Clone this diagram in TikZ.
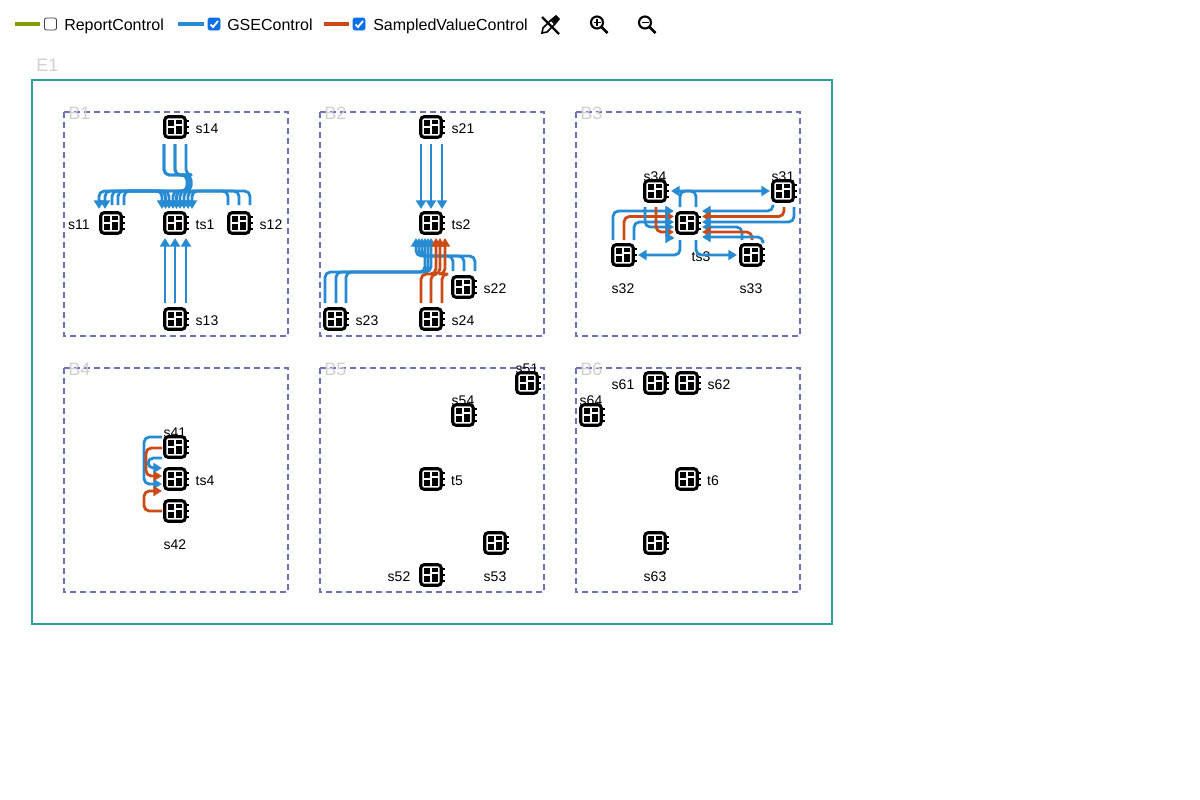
\documentclass[tikz,border=0pt]{standalone}
\usepackage{fontspec}
\setmainfont{Liberation Sans}
\usetikzlibrary{arrows.meta}
\definecolor{gsec}{HTML}{268BD2}
\definecolor{svc}{HTML}{CB4B16}
\definecolor{rpc}{HTML}{859900}
\definecolor{teal}{HTML}{2AA198}
\definecolor{bay}{HTML}{6C71C4}
\definecolor{faint}{HTML}{D0D0D0}
\definecolor{chk}{HTML}{0B6FE8}
\tikzset{
 x=0.75pt,y=-0.75pt,
 txt/.style={font=\fontsize{10.5pt}{12pt}\selectfont,text=black,inner sep=0pt,anchor=base},
 legtxt/.style={font=\fontsize{12pt}{14pt}\selectfont,text=black,inner sep=0pt,anchor=base west},
 ttl/.style={font=\fontsize{13.5pt}{15pt}\selectfont,text=faint,inner sep=0pt,anchor=base west},
 frame/.style={draw=teal,line width=1.5pt},
 baybox/.style={draw=bay,line width=1.5pt,dash pattern=on 4.5pt off 3pt},
 iedbox/.style={draw=black,line width=2.3pt,rounded corners=2.5pt,minimum width=15.4pt,minimum height=15.4pt,inner sep=0pt},
 gse/.style={draw=gsec,line width=2.1pt,rounded corners=4pt,line join=round},
 sv/.style={draw=svc,line width=2.1pt,rounded corners=4pt,line join=round},
 gsea/.style={gse,-{Triangle[length=6.5pt,width=7.5pt]}},
 sva/.style={sv,-{Triangle[length=6.5pt,width=7.5pt]}},
 leg/.style={line width=2.4pt},
 box/.style={draw=#1,fill=#1,rounded corners=1.5pt,line width=0.5pt},
}
\newcommand{\ied}[3]{%
 \node[iedbox] (#1) at (#2,#3) {};
 \begin{scope}[shift={(#2,#3)}]
 \fill[black] (-7,-6.8) rectangle (-0.8,-0.8);
 \fill[black] (-7,1.2) rectangle (-0.8,6.8);
 \fill[black] (1.2,-6.8) rectangle (6.8,-3);
 \fill[black] (1.2,-1.5) rectangle (6.8,6.8);
 \draw[black,line width=1.3pt] (11.5,-6) -- (14,-6) (11.5,0) -- (14,0) (11.5,6) -- (14,6);
 \end{scope}}
\newcommand{\lbl}[4]{\node[txt] (#1) at (#2,#3+5) {#4};}
\begin{document}
\begin{tikzpicture}
\useasboundingbox (0,0) rectangle (1200,800);
\fill[white] (0,0) rectangle (1200,800);
% legend
\coordinate (r1) at (15,24); \coordinate (r2) at (40,24);
\draw[leg,rpc] (r1) -- (r2);
\draw[black!75,line width=0.6pt,rounded corners=1.5pt] (44.5,18) rectangle (56.5,30);
\node[legtxt] (lr) at (64,30) {ReportControl};
\coordinate (g1) at (178,24); \coordinate (g2) at (204,24);
\draw[leg,gsec] (g1) -- (g2);
\filldraw[box=chk] (208,18) rectangle (220,30);
\draw[white,line width=1.4pt] (210.5,24.5) -- (213,27) -- (218,21);
\node[legtxt] (lg) at (227,30) {GSEControl};
\coordinate (s1) at (324,24); \coordinate (s2) at (349,24);
\draw[leg,svc] (s1) -- (s2);
\filldraw[box=chk] (353,18) rectangle (365,30);
\draw[white,line width=1.4pt] (355.5,24.5) -- (358,27) -- (363,21);
\node[legtxt] (ls) at (373,30) {SampledValueControl};
% tool icons
\draw[black,line width=1.6pt] (542,17) -- (559,34);
\draw[black,line width=1.2pt] (542,33) -- (543,28) -- (551,20) -- (555,24) -- (547,32) -- cycle;
\fill[black] (551,19) -- (556,15) -- (560,19) -- (556,24) -- cycle;
\foreach \cx/\pl in {597/1,645/0}{
 \draw[black,line width=1.6pt] (\cx,22.5) circle[radius=6];
 \draw[black,line width=1.9pt] (\cx+4.5,27) -- (\cx+10.5,33);
 \draw[black,line width=1.2pt] (\cx-3.5,22.5) -- (\cx+3.5,22.5);
 \ifnum\pl=1 \draw[black,line width=1.2pt] (\cx,19) -- (\cx,26);\fi
}
% frames
\draw[frame] (32,80) rectangle (832,624);
\node[ttl] (E1) at (36,71) {E1};
\foreach \bx/\by/\bn in {64/112/B1,320/112/B2,576/112/B3,64/368/B4,320/368/B5,576/368/B6}{
 \draw[baybox] (\bx,\by) rectangle (\bx+224,\by+224);
 \node[ttl] (\bn) at (\bx+4,\by+7) {\bn};
}
% labels
\lbl{ls14}{207}{128}{s14}\lbl{lts1}{205}{224}{ts1}\lbl{ls11}{79}{224}{s11}\lbl{ls12}{271}{224}{s12}\lbl{ls13}{207}{320}{s13}
\lbl{ls21}{463}{128}{s21}\lbl{lts2}{461}{224}{ts2}\lbl{ls22}{495}{288}{s22}\lbl{ls23}{367}{320}{s23}\lbl{ls24}{463}{320}{s24}
\lbl{ls34}{655}{176}{s34}\lbl{ls31}{783}{176}{s31}\lbl{lts3}{701}{256}{ts3}\lbl{ls32}{623}{288}{s32}\lbl{ls33}{751}{288}{s33}
\lbl{ls41}{175}{432}{s41}\lbl{lts4}{205}{480}{ts4}\lbl{ls42}{175}{544}{s42}
\lbl{ls51}{527}{368}{s51}\lbl{ls54}{463}{400}{s54}\lbl{lt5}{457}{480}{t5}\lbl{ls52}{399}{576}{s52}\lbl{ls53}{495}{576}{s53}
\lbl{ls61}{623}{384}{s61}\lbl{ls62}{719}{384}{s62}\lbl{ls64}{591}{400}{s64}\lbl{lt6}{713}{480}{t6}\lbl{ls63}{655}{576}{s63}
% IEDs
\ied{s14}{175}{127}\ied{ts1}{175}{223}\ied{s11}{111}{223}\ied{s12}{239}{223}\ied{s13}{175}{319}
\ied{s21}{431}{127}\ied{ts2}{431}{223}\ied{s22}{463}{287}\ied{s23}{335}{319}\ied{s24}{431}{319}
\ied{ts3}{687}{223}\ied{s34}{655}{191}\ied{s31}{783}{191}\ied{s32}{623}{255}\ied{s33}{751}{255}
\ied{s41}{175}{447}\ied{ts4}{175}{479}\ied{s42}{175}{511}
\ied{s51}{527}{383}\ied{s54}{463}{415}\ied{t5}{431}{479}\ied{s52}{431}{575}\ied{s53}{495}{543}
\ied{s61}{655}{383}\ied{s62}{687}{383}\ied{s64}{591}{415}\ied{t6}{687}{479}\ied{s63}{655}{543}
% B1 connectors
\foreach \a/\b/\c in {-11/191/-2,0/189/1.5,11/187/5}{
 \draw[gsea] ([shift={(\a,17)}]s14.center) -- (175+\a,175) -- (\b,175) -- (\b,191) -- (175+\c,191) -- ([shift={(\c,-14)}]ts1.center);}
\foreach \a/\b/\c in {-11/191/-12,0/189/-6}{
 \draw[gsea] ([shift={(\a,17)}]s14.center) -- (175+\a,175) -- (\b,175) -- (\b,191) -- (111+\c,191) -- ([shift={(\c,-14)}]s11.center);}
\foreach \a/\c in {1/-13,7/-9.5,13/-6}{
 \draw[gsea] ([shift={(\a,-18)}]s11.center) -- (111+\a,191) -- (175+\c,191) -- ([shift={(\c,-14)}]ts1.center);}
\foreach \a/\c in {-11/9,0/13,11/17}{
 \draw[gsea] ([shift={(\a,-18)}]s12.center) -- (239+\a,191) -- (175+\c,191) -- ([shift={(\c,-14)}]ts1.center);}
\foreach \a in {-10,0,11}{
 \draw[gsea] ([shift={(\a,-16)}]s13.center) -- ([shift={(\a,15)}]ts1.center);}
% B2
\foreach \a in {-10,0,11}{
 \draw[gsea] ([shift={(\a,17)}]s21.center) -- ([shift={(\a,-14)}]ts2.center);}
\foreach \a/\c in {-10/-9,1/-12,12/-15}{
 \draw[gsea] ([shift={(\a,-16)}]s22.center) -- (463+\a,256) -- (431+\c,256) -- ([shift={(\c,15)}]ts2.center);}
\foreach \a/\c in {-10/-6,1/-3,11/0}{
 \draw[gsea] ([shift={(\a,-16)}]s23.center) -- (335+\a,272) -- (431+\c,272) -- ([shift={(\c,15)}]ts2.center);}
\foreach \a/\c in {-10/5,0/9,11/14}{
 \draw[sva] ([shift={(\a,-16)}]s24.center) -- (431+\a,274) -- (431+\c,274) -- ([shift={(\c,15)}]ts2.center);}
% B3
\draw[gsea] ([shift={(9,-16)}]ts3.center) |- ([shift={(16,0)}]s34.center);
\draw[gsea] ([shift={(-7,-16)}]ts3.center) |- ([shift={(-13,0)}]s31.center);
\draw[gsea] ([shift={(-7,17)}]ts3.center) |- ([shift={(15,0)}]s32.center);
\draw[gsea] ([shift={(9,17)}]ts3.center) |- ([shift={(-14,0)}]s33.center);
\draw[gsea] ([shift={(-10,-15)}]s32.center) |- ([shift={(-13,-12)}]ts3.center);
\draw[sva] ([shift={(1,-15)}]s32.center) |- ([shift={(-13,-6.5)}]ts3.center);
\draw[gsea] ([shift={(11,-15)}]s32.center) |- ([shift={(-13,-1)}]ts3.center);
\draw[gsea] ([shift={(-10,16)}]s34.center) |- ([shift={(-13,4)}]ts3.center);
\draw[sva] ([shift={(1,16)}]s34.center) |- ([shift={(-13,9)}]ts3.center);
\draw[gsea] ([shift={(12,16)}]s34.center) |- ([shift={(-13,15)}]ts3.center);
\draw[gsea] ([shift={(-10,16)}]s31.center) |- ([shift={(15,-12)}]ts3.center);
\draw[sva] ([shift={(1,16)}]s31.center) |- ([shift={(15,-6.5)}]ts3.center);
\draw[gsea] ([shift={(11,16)}]s31.center) |- ([shift={(15,-1)}]ts3.center);
\draw[gsea] ([shift={(-9,-15)}]s33.center) |- ([shift={(15,4)}]ts3.center);
\draw[sva] ([shift={(1,-15)}]s33.center) |- ([shift={(15,9)}]ts3.center);
\draw[gsea] ([shift={(12,-15)}]s33.center) |- ([shift={(15,14)}]ts3.center);
% B4
\draw[gsea] ([shift={(-13,-10)}]s41.center) -- (144,437) |- ([shift={(-13,5)}]ts4.center);
\draw[sva] ([shift={(-13,1)}]s41.center) -- (146,448) |- ([shift={(-13,-3)}]ts4.center);
\draw[gsea] ([shift={(-13,11)}]s41.center) -- (148,458) |- ([shift={(-13,-11)}]ts4.center);
\draw[sva] ([shift={(-13,0)}]s42.center) -- (144,511) |- ([shift={(-13,12)}]ts4.center);
\end{tikzpicture}
\end{document}
